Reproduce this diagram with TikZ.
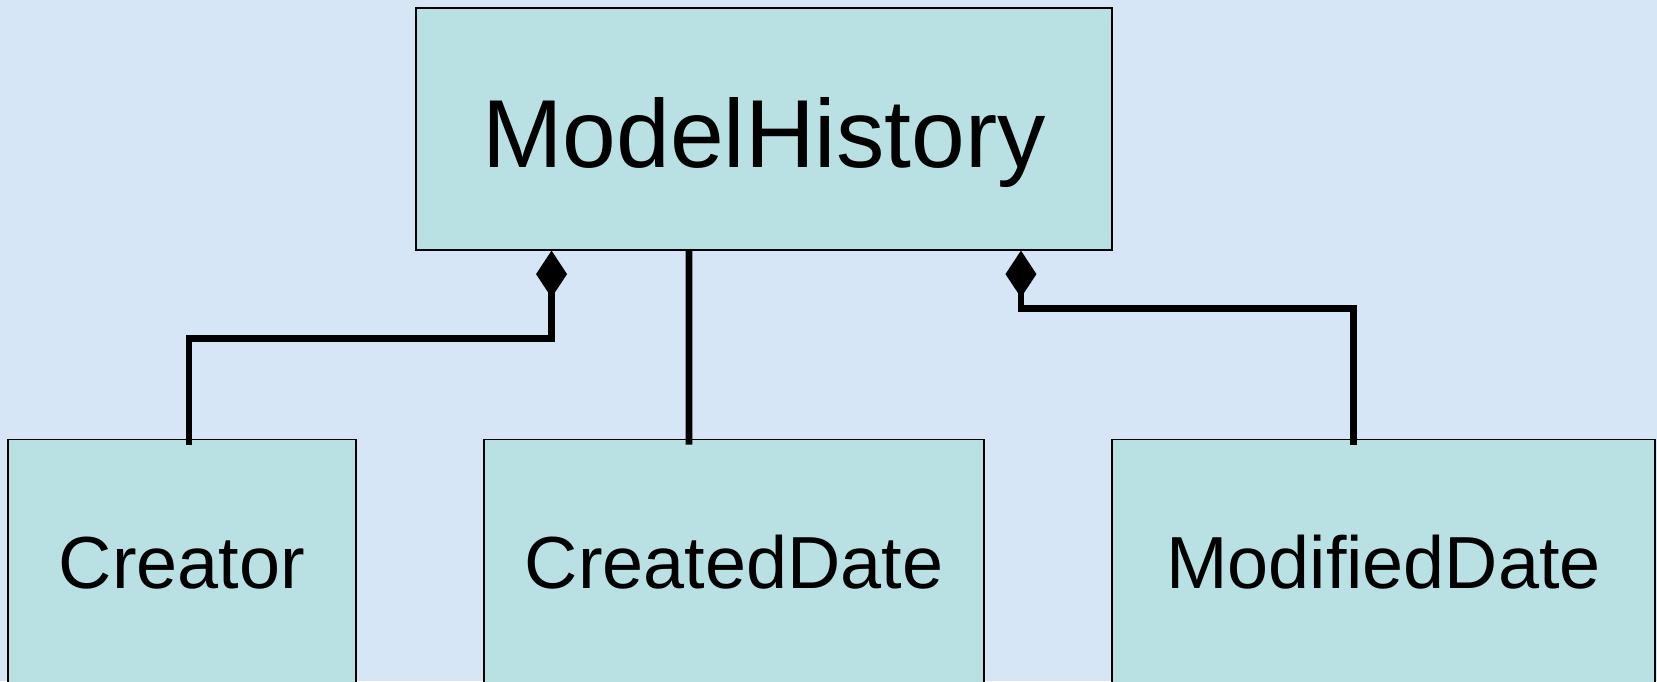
\documentclass[tikz,border=0pt]{standalone}
\usepackage{fontspec}
\setmainfont{Liberation Sans}
\usepackage{tikz}
\usetikzlibrary{arrows.meta}
\definecolor{paper}{RGB}{214,230,246}
\definecolor{boxfill}{RGB}{185,224,227}

\begin{document}
\begin{tikzpicture}[x=0.02cm,y=-0.02cm,
        classbox/.style={draw=black,line width=1pt,fill=boxfill,inner sep=0pt,text depth=0cm},
        link/.style={line width=3.8pt},
        comp/.style={link,-{Diamond[length=0.94cm,width=0.62cm,line width=0pt]}}]
        \useasboundingbox (0,0) rectangle (1657,681);
        \clip (0,0) rectangle (1657,681);
        \fill[paper] (0,0) rectangle (1657,681);
        % classes
        \node[classbox,minimum width=13.92cm,minimum height=4.83cm,text height=1.52cm,
              font=\fontsize{55}{60}\selectfont] (ModelHistory) at (764,129) {ModelHistory};
        \node[classbox,minimum width=6.95cm,minimum height=4.9cm,text height=1.064cm,
              font=\fontsize{42}{46}\selectfont] (Creator) at (182,562) {Creator};
        \node[classbox,minimum width=10cm,minimum height=4.9cm,text height=1.064cm,
              font=\fontsize{42}{46}\selectfont] (CreatedDate) at (734,562) {CreatedDate};
        \node[classbox,minimum width=10.86cm,minimum height=4.9cm,text height=1.064cm,
              font=\fontsize{42}{46}\selectfont] (ModifiedDate) at (1383.5,562) {ModifiedDate};
        % connectors
        \coordinate (mhL) at ([xshift=-4.25cm]ModelHistory.south);
        \coordinate (mhC) at ([xshift=-1.5cm]ModelHistory.south);
        \coordinate (mhR) at ([xshift=5.14cm]ModelHistory.south);
        \draw[comp] ([xshift=0.14cm,yshift=-0.12cm]Creator.north) -- ++(0,-106) -| (mhL);
        \draw[link] ([xshift=-0.9cm,yshift=-0.12cm]CreatedDate.north) -- (mhC);
        \draw[comp] ([xshift=-0.6cm,yshift=-0.12cm]ModifiedDate.north) -- ++(0,-136) -| (mhR);
    \end{tikzpicture}
\end{document}
